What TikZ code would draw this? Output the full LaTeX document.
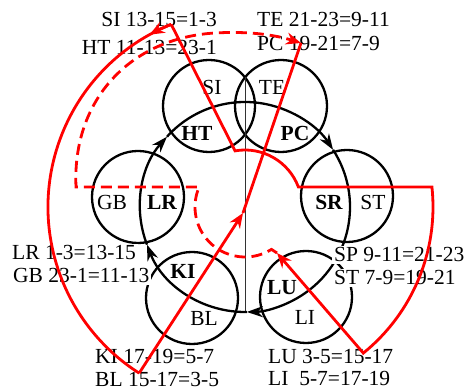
\documentclass[tikz,border=0pt]{standalone}
\usepackage{fontspec}
\setmainfont{Liberation Serif}
\usetikzlibrary{arrows.meta,calc}
\begin{document}
\begin{tikzpicture}[x=1pt,y=1pt,
  ring/.style={circle, draw=black, line width=2.3pt, minimum size=92pt, inner sep=0pt},
  cyc/.style={line width=2.3pt, -{Stealth[length=16pt,width=11pt]}},
  lab/.style={font=\fontsize{21.5}{24}\selectfont, inner sep=2pt, fill=white},
  inl/.style={font=\fontsize{21.5}{24}\selectfont, inner sep=0pt},
  inb/.style={font=\fontsize{21.5}{24}\selectfont\bfseries, inner sep=0pt},
  rs/.style={draw=red, line width=2.8pt, line join=miter},
  rd/.style={rs, dash pattern=on 11pt off 6pt},
  rarrow/.style={-{Stealth[length=15pt,width=12pt]}}
]
\useasboundingbox (0,0) rectangle (470,390);
\coordinate (C) at (245,183);
% black circles
\node[ring] (SIHT) at (209,284) {};
\node[ring] (TEPC) at (281,284) {};
\node[ring] (GBLR) at (138,193) {};
\node[ring] (SRST) at (347,194) {};
\node[ring] (KIBL) at (192,92) {};
\node[ring] (LULI) at (306,93) {};
% vertical grey line
\coordinate (vtop) at (245,313);
\coordinate (vbot) at (245,78);
\draw[line width=1pt, black!80] (vtop) -- (vbot);
% cycle arrows
\draw[cyc] ($(C)+(271:105)$) arc[start angle=271, end angle=201, radius=105];
\draw[cyc] ($(C)+(201:105)$) arc[start angle=201, end angle=138, radius=105];
\draw[cyc] ($(C)+(138:105)$) arc[start angle=138, end angle=33, radius=105];
\draw[cyc] ($(C)+(33:105)$) arc[start angle=33, end angle=-89, radius=105];
% outer labels
\node[lab, anchor=base east] (lSI) at (219,363) {SI 13-15=1-3};
\node[lab, anchor=base east] (lHT) at (219,335) {HT 11-13=23-1};
\node[lab, anchor=base west] (lTE) at (255,363) {TE 21-23=9-11};
\node[lab, anchor=base west] (lPC) at (255,339) {PC 19-21=7-9};
\node[lab, anchor=base west] (lLR) at (10,130) {LR 1-3=13-15};
\node[lab, anchor=base west] (lGB) at (11,107) {GB 23-1=11-13};
\node[lab, anchor=base west] (lSP) at (332,128) {SP 9-11=21-23};
\node[lab, anchor=base west] (lST) at (332,105) {ST 7-9=19-21};
\node[lab, anchor=base west] (lKI) at (93,27) {KI 17-19=5-7};
\node[lab, anchor=base west] (lBL) at (93,4) {BL 15-17=3-5};
\node[lab, anchor=base west] (lLU) at (266,27) {LU 3-5=15-17};
\node[lab, anchor=base west] (lLI) at (266,5) {LI\ \ 5-7=17-19};
% inner labels
\node[inl] (tSI) at (212,303) {SI};
\node[inl] (tTE) at (272,303) {TE};
\node[inb] (tHT) at (197,257) {HT};
\node[inb] (tPC) at (295,257) {PC};
\node[inl] (tGB) at (112,188) {GB};
\node[inb] (tLR) at (162,188) {LR};
\node[inb] (tSR) at (329,188) {SR};
\node[inl] (tST) at (373,188) {ST};
\node[inb] (tKI) at (183,119) {KI};
\node[inl] (tBL) at (204,72) {BL};
\node[inb] (tLU) at (282,102) {LU};
\node[inl] (tLI) at (305,73) {LI};
% red paths
\coordinate (P1) at ($(C)+(100:57)$);
\coordinate (P2) at ($(C)+(112:197)$);
\coordinate (P3) at ($(C)+(237.5:197)$);
\coordinate (Q) at (243,177);
\coordinate (T) at (301,347);
\coordinate (P5) at ($(C)+(6.1:188)$);
\coordinate (A) at (277,137);
\coordinate (D1) at ($(C)+(-58:50)$);
\coordinate (D3) at (76,203);
\coordinate (D4) at (215,357);
\draw[rs] (P2) arc[start angle=112, end angle=237.5, radius=197];
\draw[rs, rarrow] (P2) arc[start angle=112, end angle=119, radius=197];
\draw[rs, rarrow] (P3) -- (Q);
\draw[rs] (Q) -- (T);
\draw[rs, rarrow] (P2) -- (P1) arc[start angle=100, end angle=20.5, radius=57] -- (P5) arc[start angle=6.1, end angle=-51, radius=188] -- (A);
\draw[rd, rarrow] (A) -- (D1) arc[start angle=-58, end angle=-203.6, radius=50] -- (D3)
  .. controls (72,290) and (130,352) .. (D4)
  .. controls (250,359) and (275,355) .. (T);
\end{tikzpicture}
\end{document}
